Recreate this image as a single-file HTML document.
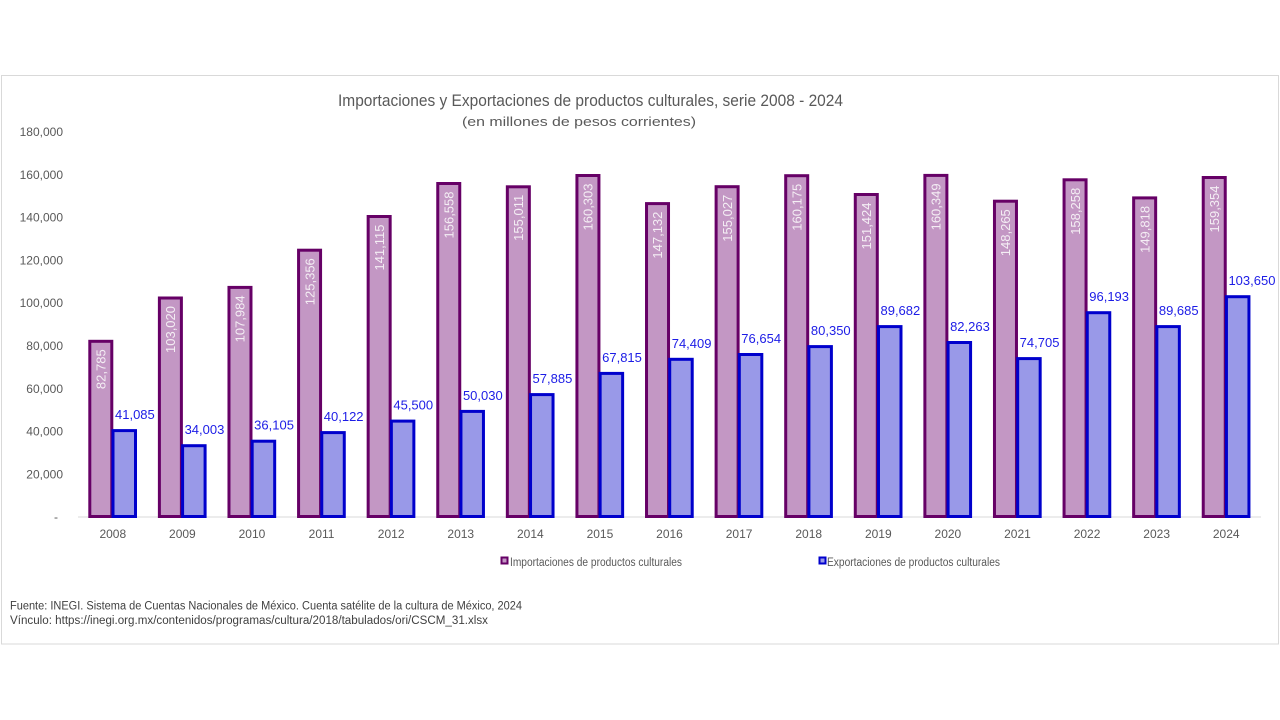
<!DOCTYPE html>
<html><head><meta charset="utf-8"><style>
html,body{margin:0;padding:0;background:#fff;}
svg{display:block;font-family:"Liberation Sans",sans-serif;}
</style></head><body>
<svg width="1280" height="720" viewBox="0 0 1280 720" xmlns="http://www.w3.org/2000/svg">
<rect x="0" y="0" width="1280" height="720" fill="#fff"/>
<rect x="1.5" y="75.5" width="1277" height="568.5" fill="#fff" stroke="#d9d9d9" stroke-width="1"/>
<text x="590.5" y="106" font-size="17" fill="#595959" text-anchor="middle" textLength="505" lengthAdjust="spacingAndGlyphs">Importaciones y Exportaciones de productos culturales, serie 2008 - 2024</text>
<text x="579" y="126" font-size="13" fill="#595959" text-anchor="middle" textLength="234" lengthAdjust="spacingAndGlyphs">(en millones de pesos corrientes)</text>
<g font-size="12" fill="#595959" text-anchor="end">
<text x="63" y="136">180,000</text>
<text x="63" y="178.8">160,000</text>
<text x="63" y="221.6">140,000</text>
<text x="63" y="264.4">120,000</text>
<text x="63" y="307.2">100,000</text>
<text x="63" y="350">80,000</text>
<text x="63" y="392.8">60,000</text>
<text x="63" y="435.6">40,000</text>
<text x="63" y="478.4">20,000</text>
<text x="58" y="521.2">-</text>
</g>
<line x1="78" y1="517" x2="1261" y2="517" stroke="#d9d9d9" stroke-width="1"/>
<g fill="#c397c4" stroke="#660066" stroke-width="3">
<rect x="89.8" y="341.3" width="22" height="175.2"/>
<rect x="159.39" y="298.0" width="22" height="218.5"/>
<rect x="228.98" y="287.4" width="22" height="229.1"/>
<rect x="298.57" y="250.2" width="22" height="266.3"/>
<rect x="368.16" y="216.5" width="22" height="300"/>
<rect x="437.75" y="183.5" width="22" height="333"/>
<rect x="507.34" y="186.8" width="22" height="329.7"/>
<rect x="576.93" y="175.5" width="22" height="341"/>
<rect x="646.52" y="203.6" width="22" height="312.9"/>
<rect x="716.11" y="186.7" width="22" height="329.8"/>
<rect x="785.7" y="175.7" width="22" height="340.8"/>
<rect x="855.29" y="194.5" width="22" height="322"/>
<rect x="924.88" y="175.4" width="22" height="341.1"/>
<rect x="994.47" y="201.2" width="22" height="315.3"/>
<rect x="1064.06" y="179.8" width="22" height="336.7"/>
<rect x="1133.65" y="197.9" width="22" height="318.6"/>
<rect x="1203.24" y="177.5" width="22" height="339"/>
</g>
<g fill="#9999e8" stroke="#0000cc" stroke-width="3">
<rect x="113" y="430.6" width="22.5" height="85.9"/>
<rect x="182.59" y="445.7" width="22.5" height="70.8"/>
<rect x="252.18" y="441.2" width="22.5" height="75.3"/>
<rect x="321.77" y="432.6" width="22.5" height="83.9"/>
<rect x="391.36" y="421.1" width="22.5" height="95.4"/>
<rect x="460.95" y="411.4" width="22.5" height="105.1"/>
<rect x="530.54" y="394.6" width="22.5" height="121.9"/>
<rect x="600.13" y="373.4" width="22.5" height="143.1"/>
<rect x="669.72" y="359.3" width="22.5" height="157.2"/>
<rect x="739.31" y="354.5" width="22.5" height="162"/>
<rect x="808.9" y="346.6" width="22.5" height="169.9"/>
<rect x="878.49" y="326.6" width="22.5" height="189.9"/>
<rect x="948.08" y="342.5" width="22.5" height="174"/>
<rect x="1017.67" y="358.6" width="22.5" height="157.9"/>
<rect x="1087.26" y="312.7" width="22.5" height="203.8"/>
<rect x="1156.85" y="326.6" width="22.5" height="189.9"/>
<rect x="1226.44" y="296.7" width="22.5" height="219.8"/>
</g>
<g font-size="13" fill="#f4eef4" text-anchor="end">
<text transform="translate(105.5,349.3) rotate(-90)">82,785</text>
<text transform="translate(175.09,306.0) rotate(-90)">103,020</text>
<text transform="translate(244.68,295.4) rotate(-90)">107,984</text>
<text transform="translate(314.27,258.2) rotate(-90)">125,356</text>
<text transform="translate(383.86,224.5) rotate(-90)">141,115</text>
<text transform="translate(453.45,191.5) rotate(-90)">156,558</text>
<text transform="translate(523.04,194.8) rotate(-90)">155,011</text>
<text transform="translate(592.63,183.5) rotate(-90)">160,303</text>
<text transform="translate(662.22,211.6) rotate(-90)">147,132</text>
<text transform="translate(731.81,194.7) rotate(-90)">155,027</text>
<text transform="translate(801.4,183.7) rotate(-90)">160,175</text>
<text transform="translate(870.99,202.5) rotate(-90)">151,424</text>
<text transform="translate(940.58,183.4) rotate(-90)">160,349</text>
<text transform="translate(1010.17,209.2) rotate(-90)">148,265</text>
<text transform="translate(1079.76,187.8) rotate(-90)">158,258</text>
<text transform="translate(1149.35,205.9) rotate(-90)">149,818</text>
<text transform="translate(1218.94,185.5) rotate(-90)">159,354</text>
</g>
<g font-size="13" fill="#1c1ce6">
<text x="115" y="419.1">41,085</text>
<text x="184.59" y="434.2">34,003</text>
<text x="254.18" y="429.7">36,105</text>
<text x="323.77" y="421.1">40,122</text>
<text x="393.36" y="409.6">45,500</text>
<text x="462.95" y="399.9">50,030</text>
<text x="532.54" y="383.1">57,885</text>
<text x="602.13" y="361.9">67,815</text>
<text x="671.72" y="347.8">74,409</text>
<text x="741.31" y="343.0">76,654</text>
<text x="810.9" y="335.1">80,350</text>
<text x="880.49" y="315.1">89,682</text>
<text x="950.08" y="331.0">82,263</text>
<text x="1019.67" y="347.1">74,705</text>
<text x="1089.26" y="301.2">96,193</text>
<text x="1158.85" y="315.1">89,685</text>
<text x="1228.44" y="285.2">103,650</text>
</g>
<g font-size="12" fill="#595959" text-anchor="middle">
<text x="112.8" y="538">2008</text>
<text x="182.39" y="538">2009</text>
<text x="251.98" y="538">2010</text>
<text x="321.57" y="538">2011</text>
<text x="391.16" y="538">2012</text>
<text x="460.75" y="538">2013</text>
<text x="530.34" y="538">2014</text>
<text x="599.93" y="538">2015</text>
<text x="669.52" y="538">2016</text>
<text x="739.11" y="538">2017</text>
<text x="808.7" y="538">2018</text>
<text x="878.29" y="538">2019</text>
<text x="947.88" y="538">2020</text>
<text x="1017.47" y="538">2021</text>
<text x="1087.06" y="538">2022</text>
<text x="1156.65" y="538">2023</text>
<text x="1226.24" y="538">2024</text>
</g>
<rect x="501.5" y="557.5" width="6" height="6" fill="#c397c4" stroke="#660066" stroke-width="2"/>
<text x="510" y="566" font-size="11.5" fill="#595959" textLength="172" lengthAdjust="spacingAndGlyphs">Importaciones de productos culturales</text>
<rect x="819.5" y="557.5" width="6" height="6" fill="#9999e8" stroke="#0000cc" stroke-width="2"/>
<text x="827" y="566" font-size="11.5" fill="#595959" textLength="173" lengthAdjust="spacingAndGlyphs">Exportaciones de productos culturales</text>
<text x="10" y="609.5" font-size="11.5" fill="#404040" textLength="512" lengthAdjust="spacingAndGlyphs">Fuente: INEGI. Sistema de Cuentas Nacionales de México. Cuenta satélite de la cultura de México, 2024</text>
<text x="10" y="624" font-size="11.5" fill="#404040" textLength="478" lengthAdjust="spacingAndGlyphs">Vínculo: https://inegi.org.mx/contenidos/programas/cultura/2018/tabulados/ori/CSCM_31.xlsx</text>
</svg>
</body></html>
